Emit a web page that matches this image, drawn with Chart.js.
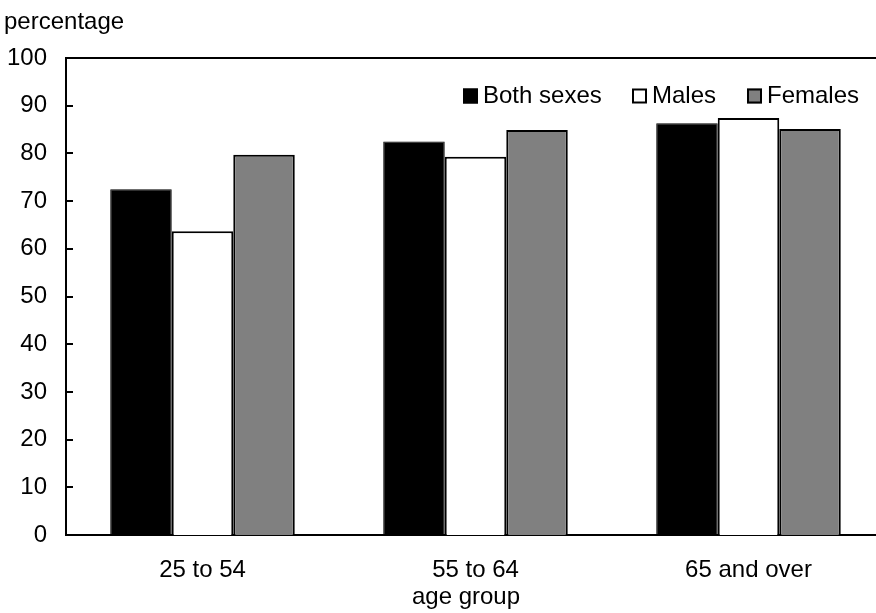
<!DOCTYPE html>
<html>
<head>
<meta charset="utf-8">
<script src="https://cdn.jsdelivr.net/npm/chart.js@4/dist/chart.umd.min.js"></script>
<style>
  html, body { margin: 0; padding: 0; background: #fff; overflow: hidden; }
  #wrap { width: 876px; height: 613px; overflow: hidden; }
</style>
</head>
<body>
<div id="wrap"><canvas id="c" width="885" height="613"></canvas></div>
<script>
const categories = ["25 to 54", "55 to 64", "65 and over"];
const bothSexes = [72.5, 82.5, 86.3];
const males = [63.7, 79.3, 87.4];
const females = [79.7, 84.9, 85.1];
const yTicks = [0, 10, 20, 30, 40, 50, 60, 70, 80, 90, 100];
const yTitle = "percentage";
const xTitle = "age group";

const FONT = '"Liberation Sans", Arial, sans-serif';
const FS = 24;

const extras = {
  id: 'extras',
  afterDraw(chart) {
    const ctx = chart.ctx;
    const a = chart.chartArea;
    const y = chart.scales.y;
    ctx.save();
    ctx.strokeStyle = '#000';
    ctx.lineWidth = 2;
    // top frame line
    ctx.beginPath();
    ctx.moveTo(a.left - 1, a.top);
    ctx.lineTo(chart.width, a.top);
    ctx.stroke();
    // inward tick marks
    yTicks.forEach(v => {
      const py = Math.round(y.getPixelForValue(v));
      ctx.beginPath();
      ctx.moveTo(a.left, py);
      ctx.lineTo(a.left + 7, py);
      ctx.stroke();
    });
    // titles
    ctx.fillStyle = '#000';
    ctx.font = FS + 'px ' + FONT;
    ctx.textBaseline = 'middle';
    ctx.textAlign = 'left';
    ctx.fillText(yTitle, 4, 22);
    ctx.textAlign = 'center';
    ctx.fillText(xTitle, 466, 597);
    // legend
    const items = chart.data.datasets.map(d => ({label: d.label, fill: d.backgroundColor}));
    const boxX = [463, 632, 747];
    const ly = 96;
    items.forEach((it, i) => {
      const bx = boxX[i];
      ctx.fillStyle = it.fill;
      ctx.fillRect(bx, ly - 7.5, 15, 15);
      ctx.lineWidth = 2;
      ctx.strokeStyle = '#000';
      ctx.strokeRect(bx + 1, ly - 6.5, 13, 13);
      ctx.fillStyle = '#000';
      ctx.textAlign = 'left';
      ctx.fillText(it.label, bx + 20, ly);
    });
    ctx.restore();
  }
};

new Chart(document.getElementById('c'), {
  type: 'bar',
  data: {
    labels: categories,
    datasets: [
      { label: 'Both sexes', data: bothSexes, backgroundColor: '#000000', borderColor: '#000000', borderWidth: 1 },
      { label: 'Males', data: males, backgroundColor: '#ffffff', borderColor: '#000000', borderWidth: 2 },
      { label: 'Females', data: females, backgroundColor: '#808080', borderColor: '#000000', borderWidth: 2 }
    ]
  },
  options: {
    responsive: false,
    animation: false,
    devicePixelRatio: 1,
    layout: { padding: { top: 58, left: 0, right: 0, bottom: 0 } },
    plugins: { legend: { display: false }, tooltip: { enabled: false } },
    datasets: { bar: { categoryPercentage: 0.676, barPercentage: 1.0, borderSkipped: 'start' } },
    scales: {
      x: {
        grid: { display: false },
        border: { display: true, color: '#000', width: 2 },
        ticks: { color: '#000', font: { family: FONT, size: FS }, padding: 13, maxRotation: 0 },
        afterFit(s) { s.height = 78; }
      },
      y: {
        min: 0, max: 100,
        grid: { display: false },
        border: { display: true, color: '#000', width: 2 },
        ticks: { stepSize: 10, color: '#000', font: { family: FONT, size: FS }, padding: 11 },
        afterFit(s) { s.width = 66; }
      }
    }
  },
  plugins: [extras]
});
</script>
</body>
</html>
